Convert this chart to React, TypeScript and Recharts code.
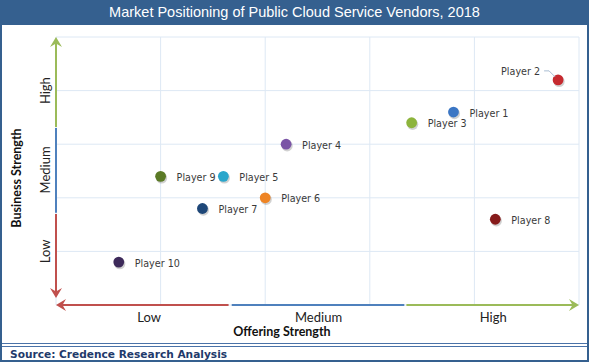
import React from 'react';
import { ScatterChart, Scatter, XAxis, YAxis, ReferenceLine } from 'recharts';

// ---- data ----
const PLAYERS = ['Player 1', 'Player 2', 'Player 3', 'Player 4', 'Player 5', 'Player 6', 'Player 7', 'Player 8', 'Player 9', 'Player 10'];
const OFFERING = [3.8, 4.8, 3.4, 2.2, 1.6, 2.0, 1.4, 4.2, 1.0, 0.6];
const BUSINESS = [3.6, 4.2, 3.4, 3.0, 2.4, 2.0, 1.8, 1.6, 2.4, 0.8];
const COLORS = ['#3b76c4', '#c62a2f', '#8db43c', '#7b55a6', '#2ba6cb', '#ee8424', '#1e4778', '#861b1b', '#5b7a26', '#3d2a5a'];
const LABEL_LEFT = ['Player 2'];

const GRID_TICKS = [0, 1, 2, 3, 4, 5];
const X_LEVEL_POS = [0.89, 2.51, 4.18];
const Y_LEVEL_POS = [1.0, 2.52, 4.0];
const LEVEL_LABELS = ['Low', 'Medium', 'High'];

const TITLE = 'Market Positioning of Public Cloud Service Vendors, 2018';
const X_TITLE = 'Offering Strength';
const Y_TITLE = 'Business Strength';
const SOURCE = 'Source: Credence Research Analysis';

const data = PLAYERS.map((name, i) => ({
  name,
  x: OFFERING[i],
  y: BUSINESS[i],
  color: COLORS[i],
  left: LABEL_LEFT.includes(name),
}));

const GREEN = '#9bbb59';
const BLUE = '#4f81bd';
const RED = '#c0504d';
const GRID = '#dde8f4';

const Arrow = (props: any) => {
  const { x1, y1, x2, y2, color, head } = props;
  const dx = x2 - x1;
  const dy = y2 - y1;
  const len = Math.sqrt(dx * dx + dy * dy) || 1;
  const ux = dx / len;
  const uy = dy / len;
  const nx = -uy;
  const ny = ux;
  if (!head) {
    return <line x1={x1} y1={y1} x2={x2} y2={y2} stroke={color} strokeWidth={2} />;
  }
  const L = 10;
  const W = 6;
  const pts = [
    [x2, y2],
    [x2 - ux * L + nx * W, y2 - uy * L + ny * W],
    [x2 - ux * 6.5, y2 - uy * 6.5],
    [x2 - ux * L - nx * W, y2 - uy * L - ny * W],
  ]
    .map((p) => p.join(','))
    .join(' ');
  return (
    <g>
      <line x1={x1} y1={y1} x2={x2 - ux * 4} y2={y2 - uy * 4} stroke={color} strokeWidth={2} />
      <polygon points={pts} fill={color} />
    </g>
  );
};

const PointShape = (props: any) => {
  const { cx, cy, payload } = props;
  if (cx == null || cy == null) return null;
  const labelStyle = { fontFamily: '"DejaVu Sans", Verdana, sans-serif', fontSize: 9.6, fill: '#3a3a3a' };
  return (
    <g>
      <circle cx={cx + 1} cy={cy + 1.6} r={5.6} fill="rgba(0,0,0,0.18)" />
      <circle cx={cx} cy={cy} r={5.4} fill={payload.color} />
      {payload.left ? (
        <g>
          <polyline points={`${cx - 14},${cy - 9} ${cx - 9},${cy - 9} ${cx - 3},${cy - 3}`} fill="none" stroke="#a9bdd3" strokeWidth={1} />
          <text x={cx - 18} y={cy - 8} textAnchor="end" dominantBaseline="central" style={labelStyle}>
            {payload.name}
          </text>
        </g>
      ) : (
        <text x={cx + 16} y={cy + 1} textAnchor="start" dominantBaseline="central" style={labelStyle}>
          {payload.name}
        </text>
      )}
    </g>
  );
};

const levelFont = { fontFamily: 'Lato, "Open Sans", sans-serif', fontSize: 13, fill: '#222' };
const titleFont = { fontFamily: 'Lato, "Open Sans", sans-serif', fontSize: 12.5, fontWeight: 700, fill: '#111' };

const XLevelTick = (props: any) => {
  const { x, y, index } = props;
  return (
    <text x={x} y={y + 12} textAnchor="middle" dominantBaseline="central" style={levelFont}>
      {LEVEL_LABELS[index]}
    </text>
  );
};

const YLevelTick = (props: any) => {
  const { x, y, index } = props;
  const tx = x - 11;
  return (
    <text x={tx} y={y} transform={`rotate(-90 ${tx} ${y})`} textAnchor="middle" dominantBaseline="central" style={levelFont}>
      {LEVEL_LABELS[index]}
    </text>
  );
};

const XTitle = (props: any) => {
  const vb = props.viewBox || {};
  const x = vb.x + 226;
  const y = vb.y + 26;
  return (
    <text x={x} y={y} textAnchor="middle" dominantBaseline="central" style={titleFont}>
      {X_TITLE}
    </text>
  );
};

const YTitle = (props: any) => {
  const vb = props.viewBox || {};
  const x = vb.x + 6;
  const y = vb.y + 141;
  return (
    <text x={x} y={y} transform={`rotate(-90 ${x} ${y})`} textAnchor="middle" dominantBaseline="central" style={titleFont}>
      {Y_TITLE}
    </text>
  );
};

const Y_SEGMENTS = [
  { from: 3.32, to: 5, color: GREEN, head: true },
  { from: 1.72, to: 3.3, color: BLUE, head: false },
  { from: 1.7, to: 0.13, color: RED, head: true },
];
const X_SEGMENTS = [
  { from: 1.65, to: 0.0, color: RED, head: true },
  { from: 1.68, to: 3.33, color: BLUE, head: false },
  { from: 3.35, to: 5, color: GREEN, head: true },
];

export default function App() {
  return (
    <div style={{ position: 'absolute', left: 0, top: 0, width: 589, height: 362, background: '#fff', overflow: 'hidden' }}>
      <div style={{ position: 'absolute', left: 0, top: 0 }}>
        <ScatterChart width={589} height={362} margin={{ top: 37, right: 10, bottom: 30, left: 10 }}>
          <XAxis
            type="number"
            dataKey="x"
            domain={[0, 5]}
            ticks={X_LEVEL_POS}
            tick={<XLevelTick />}
            axisLine={false}
            tickLine={false}
            tickSize={0}
            tickMargin={0}
            height={27}
            interval={0}
            label={(p: any) => <XTitle {...p} />}
          />
          <YAxis
            type="number"
            dataKey="y"
            domain={[0, 5]}
            ticks={Y_LEVEL_POS}
            tick={<YLevelTick />}
            axisLine={false}
            tickLine={false}
            tickSize={0}
            tickMargin={0}
            width={46}
            interval={0}
            label={(p: any) => <YTitle {...p} />}
          />
          {GRID_TICKS.map((v) => (
            <ReferenceLine key={`gx${v}`} x={v} stroke={GRID} strokeWidth={1} ifOverflow="visible" />
          ))}
          {GRID_TICKS.map((v) => (
            <ReferenceLine key={`gy${v}`} y={v} stroke={GRID} strokeWidth={1} ifOverflow="visible" />
          ))}
          {Y_SEGMENTS.map((s, i) => (
            <ReferenceLine
              key={`y${i}`}
              ifOverflow="visible"
              segment={[{ x: 0, y: s.from }, { x: 0, y: s.to }]}
              shape={(p: any) => <Arrow {...p} color={s.color} head={s.head} />}
            />
          ))}
          {X_SEGMENTS.map((s, i) => (
            <ReferenceLine
              key={`x${i}`}
              ifOverflow="visible"
              segment={[{ x: s.from, y: 0 }, { x: s.to, y: 0 }]}
              shape={(p: any) => <Arrow {...p} color={s.color} head={s.head} />}
            />
          ))}
          <Scatter data={data} isAnimationActive={false} shape={(p: any) => <PointShape {...p} />} />
        </ScatterChart>
      </div>
      <div
        style={{
          position: 'absolute',
          left: 0,
          top: 0,
          width: 589,
          height: 25,
          background: '#35608f',
          color: '#fff',
          fontFamily: '"Liberation Sans", Arial, sans-serif',
          fontSize: 14.5,
          lineHeight: '25px',
          textAlign: 'center',
        }}
      >
        {TITLE}
      </div>
      <div
        style={{
          position: 'absolute',
          left: 0,
          top: 343,
          width: 589,
          height: 4,
          boxSizing: 'border-box',
          borderTop: '1px solid #4a72a8',
          borderBottom: '1px solid #4a72a8',
        }}
      />
      <div
        style={{
          position: 'absolute',
          left: 10,
          top: 347,
          height: 15,
          lineHeight: '15px',
          fontFamily: '"DejaVu Sans", Verdana, sans-serif',
          fontWeight: 700,
          fontSize: 10.6,
          color: '#1f3a6b',
          whiteSpace: 'nowrap',
        }}
      >
        {SOURCE}
      </div>
      <div
        style={{
          position: 'absolute',
          left: 0,
          top: 0,
          width: 589,
          height: 362,
          boxSizing: 'border-box',
          border: '2px solid #35608f',
          pointerEvents: 'none',
        }}
      />
    </div>
  );
}
